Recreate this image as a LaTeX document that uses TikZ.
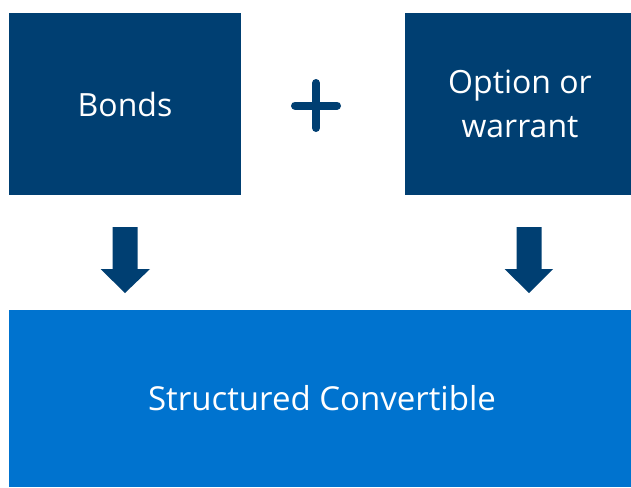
\documentclass[tikz,border=0pt]{standalone}
\usepackage{fontspec}
\setmainfont{Open Sans}
\definecolor{darkblue}{HTML}{003F72}
\definecolor{lightblue}{HTML}{0073CF}
\begin{document}
\begin{tikzpicture}[x=1pt,y=-1pt,
  box/.style={fill=darkblue, draw=none, text=white, inner sep=0pt, align=center, font=\fontsize{32}{44}\selectfont},
  widebox/.style={fill=lightblue, draw=none, text=white, inner sep=0pt, font=\fontsize{33}{44}\selectfont},
  blockarrow/.style={fill=darkblue, draw=none},
  plussign/.style={draw=darkblue, line width=8pt, line cap=round}]
\useasboundingbox (0,0) rectangle (631,487);
\fill[white] (0,0) rectangle (631,487);
\node[box, minimum width=232pt, minimum height=182pt] (bonds) at (125,104) {Bonds};
\node[box, minimum width=226pt, minimum height=182pt] (option) at (518,104) {\hspace*{4pt}Option or\\\hspace*{4pt}warrant};
\node[widebox, minimum width=622pt, minimum height=177pt] (result) at (320,398.5) {\hspace*{4pt}Structured Convertible};
% plus sign
\coordinate (plusc) at (316,105.5);
\draw[plussign] ([xshift=-21pt]plusc) -- ([xshift=21pt]plusc);
\draw[plussign] ([yshift=-22.5pt]plusc) -- ([yshift=22.5pt]plusc);
% block arrows
\fill[blockarrow] (112.5,227) -- (137.5,227) -- (137.5,269) -- (150,269) -- (125,293) -- (100.5,269) -- (112.5,269) -- cycle;
\fill[blockarrow] (516.5,227) -- (541.5,227) -- (541.5,269) -- (553,269) -- (529,293) -- (504.5,269) -- (516.5,269) -- cycle;
\end{tikzpicture}
\end{document}
